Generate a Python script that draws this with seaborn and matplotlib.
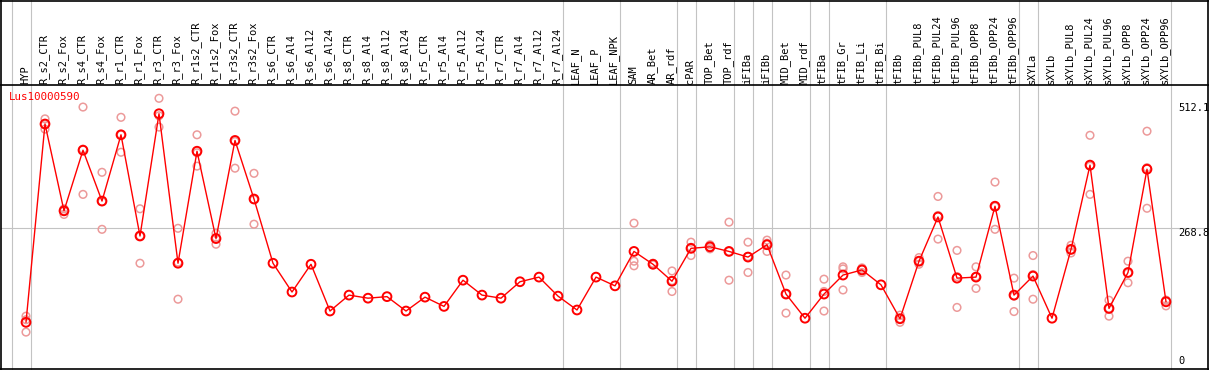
import numpy as np
import pandas as pd
import matplotlib
matplotlib.use("Agg")
import matplotlib.pyplot as plt
import matplotlib.transforms as mtransforms
import seaborn as sns

# ---------------- data ----------------
gene = "Lus10000590"
conditions = [
    "HYP", "R_s2_CTR", "R_s2_Fox", "R_s4_CTR", "R_s4_Fox", "R_r1_CTR", "R_r1_Fox",
    "R_r3_CTR", "R_r3_Fox", "R_r1s2_CTR", "R_r1s2_Fox", "R_r3s2_CTR", "R_r3s2_Fox",
    "R_s6_CTR", "R_s6_Al4", "R_s6_Al12", "R_s6_Al24", "R_s8_CTR", "R_s8_Al4",
    "R_s8_Al12", "R_s8_Al24", "R_r5_CTR", "R_r5_Al4", "R_r5_Al12", "R_r5_Al24",
    "R_r7_CTR", "R_r7_Al4", "R_r7_Al12", "R_r7_Al24", "LEAF_N", "LEAF_P", "LEAF_NPK",
    "SAM", "AR_Bet", "AR_rdf", "cPAR", "TOP_Bet", "TOP_rdf", "iFIBa", "iFIBb",
    "MID_Bet", "MID_rdf", "tFIBa", "tFIB_Gr", "tFIB_Li", "tFIB_Bi", "tFIBb",
    "tFIBb_PUL8", "tFIBb_PUL24", "tFIBb_PUL96", "tFIBb_OPP8", "tFIBb_OPP24",
    "tFIBb_OPP96", "sXYLa", "sXYLb", "sXYLb_PUL8", "sXYLb_PUL24", "sXYLb_PUL96",
    "sXYLb_OPP8", "sXYLb_OPP24", "sXYLb_OPP96",
]
means = [
    85, 471, 302, 420, 321, 450, 253, 491, 200, 418, 248, 439, 325,
    200, 144, 198, 107, 138, 132, 135, 107, 134, 116, 167, 138, 132, 164, 173, 136,
    109, 173, 156,
    223, 198, 165, 229, 232, 223, 212, 236, 140, 93, 140, 177, 187, 158, 92,
    204, 290, 171, 173, 311, 138, 175, 93, 227, 391, 112, 182, 383, 125,
]
nan = np.nan
rep1 = [97, 481, 306, 504, 377, 484, 306, 521, 268, 450, 258, 496, 375,
        nan, nan, nan, nan, nan, nan, nan, nan, nan, nan, nan, nan, nan, nan, nan, nan,
        nan, nan, nan,
        278, 200, 185, 241, 236, 280, 241, 245, 177, nan, 169, 193, 191, nan, 99,
        211, 330, 225, 193, 358, 171, 215, nan, 235, 449, 128, 204, 457, 128]
rep2 = [90, 470, 302, 422, 320, 450, 253, 487, 202, 415, 250, 437, 324,
        nan, nan, nan, nan, nan, nan, nan, nan, nan, nan, nan, nan, nan, nan, nan, nan,
        nan, nan, nan,
        204, 198, 166, 231, 231, 223, 213, 239, 140, nan, 145, 189, 188, nan, 92,
        204, 293, 174, 174, 310, 136, 178, nan, 226, 389, 112, 181, 386, 128]
rep3 = [66, 461, 295, 334, 266, 416, 200, 465, 130, 389, 237, 385, 276,
        nan, nan, nan, nan, nan, nan, nan, nan, nan, nan, nan, nan, nan, nan, nan, nan,
        nan, nan, nan,
        195, 197, 145, 215, 228, 167, 182, 223, 103, nan, 107, 148, 182, nan, 85,
        198, 247, 114, 151, 266, 106, 130, nan, 220, 334, 97, 162, 307, 117]
group_ends = [-1, 0, 28, 31, 34, 35, 37, 38, 39, 41, 42, 45, 52, 53, 60]
ytick_vals = [512.1, 268.8, 0]
ytick_labels = ["512.1", "268.8", "0"]

# ---------------- figure ----------------
W, H = 1209, 370
fig = plt.figure(figsize=(W / 100, H / 100), dpi=100)
ax = fig.add_axes([0, 0, 1, 1])
sns.set_style("white")
plt.rcParams["font.family"] = ["DejaVu Sans Mono"]

# pixel layout: column i centred at 26 + 19*i px; value v at 366 - 0.5138*v px
x0px, dxpx = 26.0, 19.0
y0px, kpx = 366.0, 0.5138
ax.set_xlim(-x0px / dxpx, (W - x0px) / dxpx)
ax.set_ylim((y0px - H) / kpx, y0px / kpx)
ax.axis("off")

idx = np.arange(len(conditions))
df_mean = pd.DataFrame({"pos": idx, "value": means})
df_rep = pd.DataFrame({
    "pos": np.concatenate([idx, idx, idx]),
    "value": np.concatenate([rep1, rep2, rep3]),
}).dropna()

gray = "#c3c3c3"
fy = lambda px: 1 - px / H          # figure-fraction from pixel row
fx = lambda px: px / W
tr_xdata = mtransforms.blended_transform_factory(ax.transData, fig.transFigure)
tr_ydata = mtransforms.blended_transform_factory(fig.transFigure, ax.transData)

# group separators (full height)
for g in group_ends:
    ax.plot([g + 0.25, g + 0.25], [0, 1], transform=tr_xdata, color=gray, lw=0.8, zorder=1)
# horizontal grid at middle tick
ax.plot([fx(1), fx(1208)], [ytick_vals[1]] * 2, transform=tr_ydata, color=gray, lw=0.8, zorder=1)

# replicate points
sns.scatterplot(data=df_rep, x="pos", y="value", ax=ax, marker="o", s=30,
                facecolor="none", edgecolor="#ec9a9a", linewidth=1.1, zorder=3, legend=False)
# mean line + points
sns.lineplot(data=df_mean, x="pos", y="value", ax=ax, color="#ff0000", lw=1.0,
             zorder=4, legend=False)
sns.scatterplot(data=df_mean, x="pos", y="value", ax=ax, marker="o", s=40,
                facecolor="none", edgecolor="#ff0000", linewidth=1.4, zorder=5, legend=False)

# frame lines
k = dict(transform=fig.transFigure, color="black", lw=1.2, zorder=6, clip_on=False)
ax.plot([0, 1], [fy(0.5), fy(0.5)], **k)
ax.plot([0, 1], [fy(85), fy(85)], **k)
ax.plot([0, 1], [fy(369), fy(369)], **k)
ax.plot([fx(1), fx(1)], [0, 1], **k)
ax.plot([fx(1208), fx(1208)], [0, 1], **k)

# header labels
for i, lab in enumerate(conditions):
    ax.text(i - 0.06, fy(83.5), lab, transform=tr_xdata, rotation=90, ha="center", va="bottom",
            fontsize=7.5, color="black", family="DejaVu Sans Mono")

# gene title
ax.text(fx(9), fy(97), gene, transform=fig.transFigure, ha="left", va="center",
        fontsize=7.8, color="#ff0000", family="DejaVu Sans Mono")

# value labels on the right
for v, lab in zip(ytick_vals, ytick_labels):
    ax.text(fx(1178), v, lab, transform=tr_ydata, ha="left",
            va="bottom" if v == 0 else "top", fontsize=7.5, color="black",
            family="DejaVu Sans Mono")

fig.savefig("out.png", dpi=100)
